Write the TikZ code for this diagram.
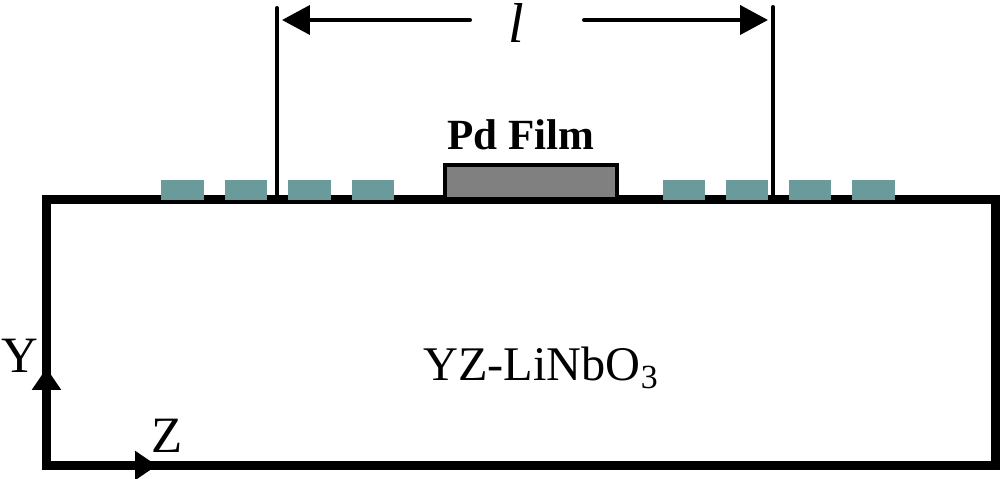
\documentclass[tikz,border=0pt]{standalone}
\usepackage{fontspec}
\setmainfont{Liberation Serif}
\usetikzlibrary{arrows.meta}
\usetikzlibrary{positioning}
\definecolor{fingerteal}{HTML}{6A9A9A}
\definecolor{filmgray}{HTML}{808080}
\newcommand{\snode}[2]{\node(#1)[finger] at (#2,190){}}

\begin{document}
\begin{tikzpicture}[
        x=0.02cm,y=-0.02cm,
        every node/.style={inner sep=0pt,outer sep=0pt},
        substrate/.style={rectangle,draw=black,line width=5.1pt,minimum width=18.98cm,minimum height=5.32cm},
        finger/.style={rectangle,fill=fingerteal,minimum width=0.85cm,minimum height=0.4cm},
        film/.style={rectangle,draw=black,line width=2.3pt,fill=filmgray,minimum width=3.44cm,minimum height=0.69cm},
        lead/.style={line width=2.3pt,line cap=round},
        dim/.style={line width=2.3pt,line cap=round,-{Triangle[length=0.56cm,width=0.58cm]}},
        axis/.style={line width=5.1pt,-{Triangle[length=0.44cm,width=0.56cm]}},
        caption/.style={font=\fontsize{27.5}{27.5}\selectfont},
        axisname/.style={font=\fontsize{29}{29}\selectfont}
      ]
      \useasboundingbox (0,0) rectangle (1000,479);
      \node(crystal)[substrate] at (521,332.5){};
      \node(pd)[film] at (531,182){};
      \foreach \i/\x in {a/182.5,b/246,c/309.5,d/373,e/684,f/747,g/810,h/873.5}{
        \snode{\i}{\x};
      }
      \coordinate(corner) at (46.5,465.5);
      \coordinate(ytip) at (46.5,368);
      \coordinate(ztip) at (157,465.5);
      \coordinate(ltop) at (277,8);
      \coordinate(lfoot) at (277,196);
      \coordinate(rtop) at (773,7);
      \coordinate(rfoot) at (773,196);
      \coordinate(ltip) at (282,20);
      \coordinate(rtip) at (768,20);
      \coordinate(lstart) at (470,20);
      \coordinate(rstart) at (584,20);
      \draw[lead] (ltop) -- (lfoot);
      \draw[lead] (rtop) -- (rfoot);
      \draw[dim] (lstart) -- (ltip);
      \draw[dim] (rstart) -- (rtip);
      \draw[axis] (corner) -- (ytip);
      \draw[axis] (corner) -- (ztip);
      \node(len)[font=\fontsize{32}{32}\selectfont\itshape] at (516,23){l};
      \node(pdname)[font=\fontsize{24.5}{24.5}\selectfont\bfseries,above=8.5pt of pd,xshift=-0.2cm]{Pd Film};
      \node(crystalname)[caption] at (541,368){YZ-LiNbO\textsubscript{3}};
      \node(yname)[axisname] at (20,356){Y};
      \node(zname)[axisname] at (167.5,436){Z};
    \end{tikzpicture}
\end{document}
